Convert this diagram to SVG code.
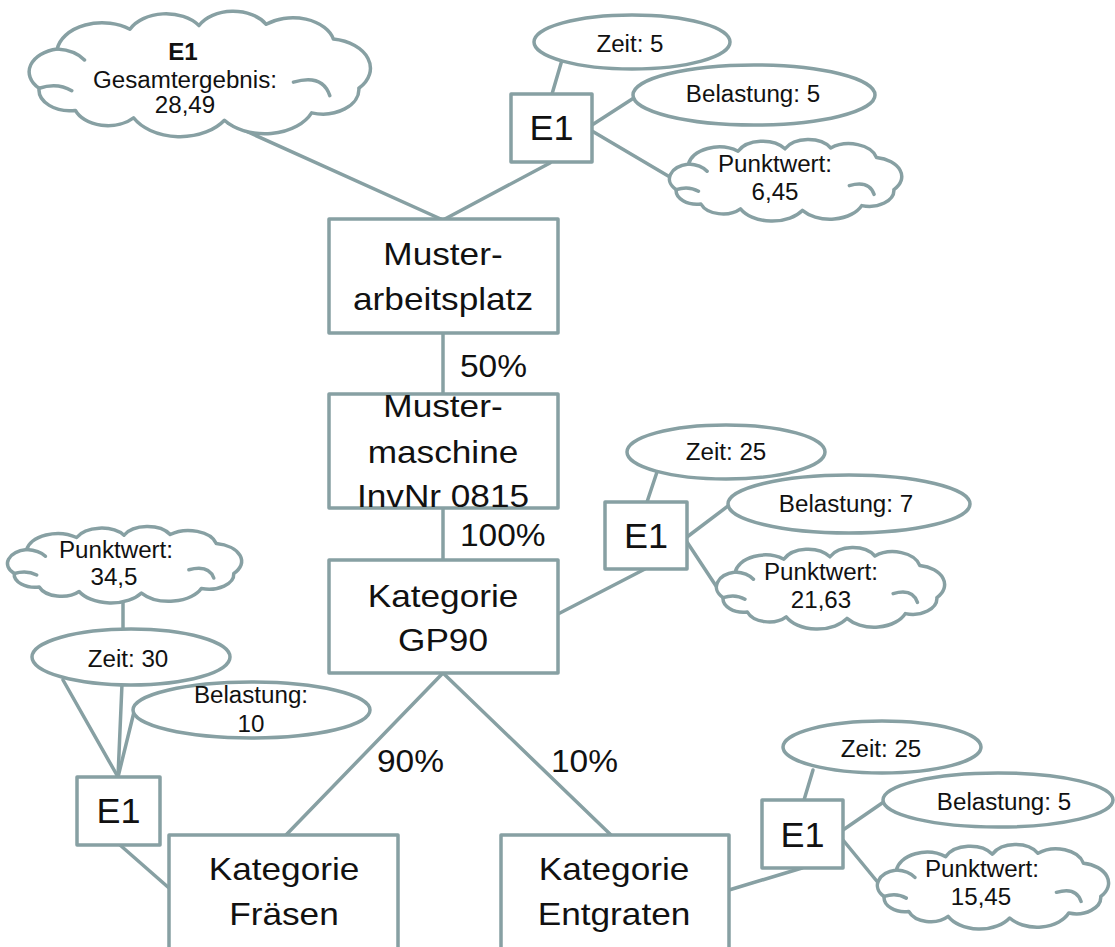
<svg xmlns="http://www.w3.org/2000/svg" xmlns:xlink="http://www.w3.org/1999/xlink" width="1115" height="947" viewBox="0 0 1115 947">
  <style>
    .ln { stroke: #87a0a3; stroke-width: 3.5; fill: none; stroke-linecap: round; }
    .box { fill: #ffffff; stroke: #87a0a3; stroke-width: 3.5; stroke-linejoin: round; }
    .ell { fill: #ffffff; stroke: #87a0a3; stroke-width: 3.5; }
    .cloud-body { fill: #ffffff; stroke: #87a0a3; stroke-width: 3.5; stroke-linejoin: round; vector-effect: non-scaling-stroke; }
    .cloud-inner { fill: none; stroke: #87a0a3; stroke-width: 3.5; stroke-linecap: round; vector-effect: non-scaling-stroke; }
    text { font-family: "Liberation Sans", Arial, sans-serif; fill: #111111; text-anchor: middle; }
    .big { font-size: 32px; }
    .e1 { font-size: 35px; }
    .sm { font-size: 23px; }
    .pct { font-size: 31px; text-anchor: start; }
    .bold { font-weight: bold; }
  </style>
  <defs>
    <!-- cloud callout, drawn in a 200 x 100 unit box -->
    <g id="cloud">
      <path class="cloud-body" d="M 10,62 A 19 19 0 0 1 20,30 A 25 25 0 0 1 60,14 A 22 22 0 0 1 98,11 A 21 21 0 0 1 135,10 A 23 23 0 0 1 172,22 A 24 24 0 0 1 186,62 A 20 20 0 0 1 160,82 A 28 28 0 0 1 112,88 A 29 29 0 0 1 62,86 A 19 19 0 0 1 30,80 A 17 17 0 0 1 10,62 Z"/>
      <path class="cloud-inner" d="M 10,62 Q 20,57 28,64 M 20,30 Q 30,31 35,39 M 150,57 Q 166,50 170,68"/>
    </g>
  </defs>

  <!-- connectors -->
  <g id="connectors">
    <line class="ln" x1="228" y1="123" x2="443" y2="220"/>
    <line class="ln" x1="550" y1="163" x2="443" y2="220"/>
    <line class="ln" x1="552" y1="94" x2="562" y2="60"/>
    <line class="ln" x1="592" y1="125" x2="640" y2="94"/>
    <line class="ln" x1="592" y1="131" x2="680" y2="183"/>
    <line class="ln" x1="443" y1="333" x2="443" y2="394"/>
    <line class="ln" x1="443" y1="508" x2="443" y2="560"/>
    <line class="ln" x1="647" y1="502" x2="657" y2="472"/>
    <line class="ln" x1="687" y1="537" x2="732" y2="503"/>
    <line class="ln" x1="687" y1="542" x2="720" y2="592"/>
    <line class="ln" x1="645" y1="569" x2="558" y2="614"/>
    <line class="ln" x1="443" y1="673" x2="286" y2="835"/>
    <line class="ln" x1="443" y1="673" x2="611" y2="835"/>
    <line class="ln" x1="123" y1="598" x2="123" y2="632"/>
    <line class="ln" x1="63" y1="680" x2="118" y2="777"/>
    <line class="ln" x1="122" y1="684" x2="118" y2="777"/>
    <line class="ln" x1="134" y1="712" x2="118" y2="777"/>
    <line class="ln" x1="120" y1="845" x2="169" y2="888"/>
    <line class="ln" x1="804" y1="800" x2="813" y2="770"/>
    <line class="ln" x1="843" y1="830" x2="888" y2="799"/>
    <line class="ln" x1="843" y1="840" x2="880" y2="885"/>
    <line class="ln" x1="802" y1="868" x2="729" y2="890"/>
  </g>

  <!-- overall result cloud -->
  <g id="cloud-gesamt">
    <use xlink:href="#cloud" href="#cloud" transform="matrix(1.817 0 0 1.23 20.9 12)"/>
    <text class="sm bold" transform="translate(183,60) scale(1.05,1)">E1</text>
    <text class="sm" transform="translate(185,88) scale(1.05,1)">Gesamtergebnis:</text>
    <text class="sm" transform="translate(185,113) scale(1.05,1)">28,49</text>
  </g>

  <!-- workplace level -->
  <g id="e1-platz">
    <rect class="box" x="511" y="94" width="81" height="68"/>
    <text class="e1" transform="translate(551.5,140) scale(1.03,1)">E1</text>
  </g>
  <g id="zeit-platz">
    <ellipse class="ell" cx="632" cy="42" rx="98" ry="27"/>
    <text class="sm" transform="translate(630,52) scale(1.05,1)">Zeit: 5</text>
  </g>
  <g id="belastung-platz">
    <ellipse class="ell" cx="754" cy="95" rx="121" ry="30"/>
    <text class="sm" transform="translate(753,102) scale(1.05,1)">Belastung: 5</text>
  </g>
  <g id="punkt-platz">
    <use xlink:href="#cloud" href="#cloud" transform="matrix(1.237 0 0 0.8 663.8 140)"/>
    <text class="sm" transform="translate(775,172) scale(1.05,1)">Punktwert:</text>
    <text class="sm" transform="translate(775,200) scale(1.05,1)">6,45</text>
  </g>

  <g id="musterarbeitsplatz">
    <rect class="box" x="329" y="219" width="229" height="114"/>
    <text class="big" transform="translate(443,265) scale(1.1,1)">Muster-</text>
    <text class="big" transform="translate(443,310) scale(1.1,1)">arbeitsplatz</text>
  </g>

  <g id="mustermaschine">
    <rect class="box" x="329" y="394" width="229" height="114"/>
    <text class="big" transform="translate(443,417) scale(1.1,1)">Muster-</text>
    <text class="big" transform="translate(443,463) scale(1.1,1)">maschine</text>
    <text class="big" transform="translate(443,507) scale(1.1,1)">InvNr 0815</text>
  </g>

  <g id="labels-pct">
    <text class="pct" transform="translate(460,377) scale(1.08,1)">50%</text>
    <text class="pct" transform="translate(460,546) scale(1.08,1)">100%</text>
    <text class="pct" transform="translate(377,772) scale(1.08,1)">90%</text>
    <text class="pct" transform="translate(551,772) scale(1.08,1)">10%</text>
  </g>

  <g id="kategorie-gp90">
    <rect class="box" x="329" y="560" width="229" height="113"/>
    <text class="big" transform="translate(443,607) scale(1.1,1)">Kategorie</text>
    <text class="big" transform="translate(443,651) scale(1.1,1)">GP90</text>
  </g>

  <!-- GP90 evaluation -->
  <g id="e1-gp90">
    <rect class="box" x="605" y="502" width="82" height="67"/>
    <text class="e1" transform="translate(646,548) scale(1.03,1)">E1</text>
  </g>
  <g id="zeit-gp90">
    <ellipse class="ell" cx="726" cy="452" rx="99" ry="27"/>
    <text class="sm" transform="translate(726,460) scale(1.05,1)">Zeit: 25</text>
  </g>
  <g id="belastung-gp90">
    <ellipse class="ell" cx="849" cy="504" rx="121" ry="29"/>
    <text class="sm" transform="translate(846,512) scale(1.05,1)">Belastung: 7</text>
  </g>
  <g id="punkt-gp90">
    <use xlink:href="#cloud" href="#cloud" transform="matrix(1.215 0 0 0.8 710.9 548)"/>
    <text class="sm" transform="translate(821,580) scale(1.05,1)">Punktwert:</text>
    <text class="sm" transform="translate(821,608) scale(1.05,1)">21,63</text>
  </g>

  <!-- milling evaluation -->
  <g id="punkt-fraesen">
    <use xlink:href="#cloud" href="#cloud" transform="matrix(1.247 0 0 0.75 1.8 527)"/>
    <text class="sm" transform="translate(116,558) scale(1.05,1)">Punktwert:</text>
    <text class="sm" transform="translate(114,585) scale(1.05,1)">34,5</text>
  </g>
  <g id="belastung-fraesen">
    <ellipse class="ell" cx="251.5" cy="710" rx="118.5" ry="28"/>
    <text class="sm" transform="translate(251,703) scale(1.05,1)">Belastung:</text>
    <text class="sm" transform="translate(251,732) scale(1.05,1)">10</text>
  </g>
  <g id="zeit-fraesen">
    <ellipse class="ell" cx="131" cy="657" rx="99" ry="28"/>
    <text class="sm" transform="translate(128,667) scale(1.05,1)">Zeit: 30</text>
  </g>
  <g id="e1-fraesen">
    <rect class="box" x="77" y="777" width="83" height="68"/>
    <text class="e1" transform="translate(118.5,823) scale(1.03,1)">E1</text>
  </g>

  <g id="kategorie-fraesen">
    <rect class="box" x="169" y="835" width="229" height="130"/>
    <text class="big" transform="translate(284,880) scale(1.1,1)">Kategorie</text>
    <text class="big" transform="translate(284,925) scale(1.1,1)">Fräsen</text>
  </g>

  <g id="kategorie-entgraten">
    <rect class="box" x="501" y="835" width="228" height="130"/>
    <text class="big" transform="translate(614,880) scale(1.1,1)">Kategorie</text>
    <text class="big" transform="translate(614,925) scale(1.1,1)">Entgraten</text>
  </g>

  <!-- deburring evaluation -->
  <g id="e1-entgraten">
    <rect class="box" x="762" y="800" width="81" height="68"/>
    <text class="e1" transform="translate(802.5,847) scale(1.03,1)">E1</text>
  </g>
  <g id="zeit-entgraten">
    <ellipse class="ell" cx="882" cy="747" rx="99" ry="26"/>
    <text class="sm" transform="translate(881,757) scale(1.05,1)">Zeit: 25</text>
  </g>
  <g id="belastung-entgraten">
    <ellipse class="ell" cx="998" cy="800" rx="115" ry="27"/>
    <text class="sm" transform="translate(1004,810) scale(1.05,1)">Belastung: 5</text>
  </g>
  <g id="punkt-entgraten">
    <use xlink:href="#cloud" href="#cloud" transform="matrix(1.231 0 0 0.83 871.8 845)"/>
    <text class="sm" transform="translate(982,877) scale(1.05,1)">Punktwert:</text>
    <text class="sm" transform="translate(981,905) scale(1.05,1)">15,45</text>
  </g>
</svg>
